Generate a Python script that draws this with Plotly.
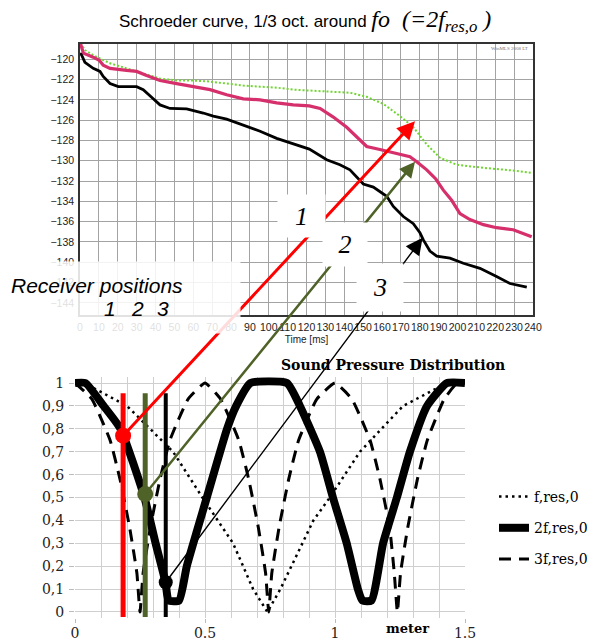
import plotly.graph_objects as go

W, H = 601, 640

# ---- top chart: Schroeder curves (time in ms, level in dB) ----
T_GREEN = [0.4, 2.6, 7, 10.6, 15.9, 24.7, 33.5, 42.4, 51.2, 60, 68.9, 77.7, 86.5, 95.4,
           104.2, 113, 121.5, 134, 143, 151.9, 160.7, 169.5, 176.6, 183.7, 190.7, 199.6,
           213.7, 231.4, 239.3]
L_GREEN = [-118.4, -119.1, -119.6, -119.9, -120.4, -120.9, -121.4, -121.9, -122.1, -122.1,
           -122.2, -122.4, -122.6, -122.7, -122.8, -123.0, -123.1, -123.2, -123.3, -123.7,
           -124.4, -125.6, -126.7, -128.4, -129.7, -130.4, -130.7, -131.0, -131.2]

T_PINK = [0, 0.9, 1.8, 7, 10.2, 12.3, 15.9, 24.7, 30, 35.3, 42.4, 51.2, 60, 68.9, 77.7,
          86.5, 95.4, 104.2, 113, 121.5, 127.2, 134.2, 141.3, 148.3, 151.9, 158.9, 167.8,
          174.8, 178.4, 183.7, 188.5, 192.5, 196.9, 201.3, 206.6, 213.7, 220.7, 229.5, 239.3]
L_PINK = [-118.3, -118.8, -119.4, -119.8, -120.1, -120.6, -120.9, -121.1, -121.2, -121.6,
          -122.1, -122.4, -122.7, -123.0, -123.5, -123.9, -124.0, -124.3, -124.5, -124.6,
          -124.85, -125.7, -126.7, -128.0, -128.6, -128.9, -129.3, -129.6, -130.1, -130.9,
          -131.8, -132.9, -133.9, -135.2, -135.8, -136.3, -136.6, -136.8, -137.5]

T_BLACK = [0, 0.9, 2.6, 7, 10.6, 12.3, 15.9, 20.3, 30, 33.5, 38.8, 42.4, 47.7, 56.5, 65.3,
           70.6, 77.7, 86.5, 95.4, 104.2, 113, 121.5, 130.7, 137.7, 143, 146.6, 150.1,
           155.4, 162.5, 166, 171.3, 176.6, 180.1, 181.9, 185.4, 189, 196, 203.1, 211.9,
           220.7, 227.8, 236.7]
L_BLACK = [-119.4, -119.6, -120.3, -120.9, -121.2, -121.7, -122.4, -122.7, -122.7, -123.0,
           -123.9, -124.5, -124.85, -124.9, -125.3, -125.6, -125.9, -126.5, -127.1, -127.8,
           -128.3, -128.85, -129.9, -130.4, -130.9, -131.6, -132.3, -132.6, -133.5, -134.5,
           -135.5, -136.2, -137.1, -137.8, -138.9, -139.4, -139.6, -140.1, -140.6, -141.4,
           -142.1, -142.45]

# ---- bottom chart: sound pressure distribution (meter, relative) ----
X_F = [0, 0.06, 0.2, 0.377, 0.49, 0.608, 0.685, 0.74, 0.79, 0.917, 0.98, 1.096, 1.262, 1.43, 1.5]
Y_F = [1, 0.985, 0.9, 0.7, 0.5, 0.3, 0.1, 0.0, 0.1, 0.4, 0.5, 0.7, 0.9, 1, 1]

X_2F = [0.00, 0.04, 0.11, 0.175, 0.267, 0.31, 0.348, 0.36, 0.40, 0.43, 0.507, 0.585, 0.62,
        0.675, 0.815, 0.865, 0.942, 0.992, 1.045, 1.088, 1.105, 1.14, 1.185, 1.238, 1.288,
        1.354, 1.43, 1.50]
Y_2F = [1.00, 1.00, 0.90, 0.80, 0.50, 0.30, 0.13, 0.05, 0.05, 0.20, 0.50, 0.80, 0.90, 1.00,
        1.00, 0.90, 0.70, 0.50, 0.30, 0.10, 0.05, 0.05, 0.30, 0.50, 0.70, 0.90, 1.00, 1.00]

X_3F = [0, 0.065, 0.135, 0.173, 0.21, 0.238, 0.25, 0.262, 0.29, 0.327, 0.365, 0.435, 0.5,
        0.56, 0.63, 0.668, 0.705, 0.733, 0.745, 0.757, 0.785, 0.822, 0.86, 0.93, 1.0,
        1.065, 1.135, 1.173, 1.21, 1.228, 1.24, 1.252, 1.28, 1.317, 1.355, 1.42, 1.47, 1.5]
Y_3F = [1, 0.93, 0.75, 0.58, 0.37, 0.17, 0, 0.17, 0.37, 0.58, 0.75, 0.93, 1,
        0.93, 0.75, 0.58, 0.37, 0.17, 0, 0.17, 0.37, 0.58, 0.75, 0.93, 1,
        0.93, 0.75, 0.58, 0.37, 0.17, 0, 0.17, 0.37, 0.58, 0.75, 0.93, 1, 1]

# receiver positions (meter) and the level read at them
RX_POS = [0.185, 0.27, 0.349]
RX_VAL = [0.77, 0.515, 0.13]
RX_COLORS = ["#FF0000", "#4F6228", "#000000"]
RX_LABELS = ["1", "2", "3"]
# where each arrow points on the Schroeder plot
TIP_MS = [177.5, 177.5, 181.5]
TIP_DB = [-126.1, -130.1, -137.6]

Y2_TICKS = [i / 10 for i in range(11)]

# axis geometry (pixels -> paper)
X1_RANGE, Y1_RANGE = [0, 240], [-145.2, -118.5]
X2_RANGE, Y2_RANGE = [0, 1.5], [-0.025, 1.025]
X1_DOM = [80 / W, 533 / W]
Y1_DOM = [1 - 315 / H, 1 - 44 / H]
X2_DOM = [75 / W, 465 / W]
Y2_DOM = [1 - 617.7 / H, 1 - 377.3 / H]


def _lin(v, r, d):
    return d[0] + (v - r[0]) / (r[1] - r[0]) * (d[1] - d[0])


def bottom_to_top(xm, yv):
    """Express a point of the bottom chart in the data units of the top chart."""
    px = _lin(xm, X2_RANGE, X2_DOM)
    py = _lin(yv, Y2_RANGE, Y2_DOM)
    return _lin(px, X1_DOM, X1_RANGE), _lin(py, Y1_DOM, Y1_RANGE)


fig = go.Figure()

# Schroeder curves
fig.add_trace(go.Scatter(x=T_GREEN, y=L_GREEN, mode="lines", xaxis="x", yaxis="y",
                         line=dict(color="#6FD630", width=2, dash="2px,2px"), showlegend=False))
fig.add_trace(go.Scatter(x=T_PINK, y=L_PINK, mode="lines", xaxis="x", yaxis="y",
                         line=dict(color="#D6306C", width=3.2), showlegend=False))
fig.add_trace(go.Scatter(x=T_BLACK, y=L_BLACK, mode="lines", xaxis="x", yaxis="y",
                         line=dict(color="#000000", width=2.8), showlegend=False))

# Sound pressure distribution
fig.add_trace(go.Scatter(x=X_F, y=Y_F, mode="lines", xaxis="x2", yaxis="y2", name="f,res,0",
                         legendgroup="a", line=dict(color="black", width=2.5, dash="2.5px,4px")))
fig.add_trace(go.Scatter(x=X_2F, y=Y_2F, mode="lines", xaxis="x2", yaxis="y2", name="2f,res,0",
                         legendgroup="b", line=dict(color="black", width=8, shape="spline",
                                                     smoothing=0.5)))
fig.add_trace(go.Scatter(x=X_3F, y=Y_3F, mode="lines", xaxis="x2", yaxis="y2", name="3f,res,0",
                         legendgroup="c", line=dict(color="black", width=3, dash="12px,8px",
                                                     shape="spline", smoothing=0.4)))

# receiver markers
for pos, val, col in zip(RX_POS, RX_VAL, RX_COLORS):
    fig.add_trace(go.Scatter(x=[pos, pos], y=[-0.022, 0.955], mode="lines", xaxis="x2",
                             yaxis="y2", line=dict(color=col, width=5 if col != "#000000" else 4),
                             showlegend=False))
for pos, val, col in zip(RX_POS, RX_VAL, RX_COLORS):
    fig.add_trace(go.Scatter(x=[pos], y=[val], mode="markers", xaxis="x2", yaxis="y2",
                             marker=dict(color=col, size=16 if col != "#000000" else 14),
                             showlegend=False))

annotations = []

# arrows from receiver points up to the Schroeder curves
ARROW_STYLE = [(3, 1.2), (2.5, 1.25), (1.4, 2.4)]
for pos, val, col, tm, tdb, (aw, asz) in zip(RX_POS, RX_VAL, RX_COLORS, TIP_MS, TIP_DB, ARROW_STYLE):
    at, adb = bottom_to_top(pos, val)
    annotations.append(dict(x=tm, y=tdb, xref="x", yref="y", ax=at, ay=adb, axref="x",
                            ayref="y", text="", showarrow=True, arrowhead=2, arrowsize=asz,
                            arrowwidth=aw, arrowcolor=col, standoff=0, startstandoff=0))

# white label boxes 1, 2, 3
for lab, cx, cy, bw, bh in [("1", 301, 216, 47, 42), ("2", 345, 244, 44, 43),
                            ("3", 380, 287, 46, 47)]:
    annotations.append(dict(x=cx / W, y=1 - cy / H, xref="paper", yref="paper",
                            text="<i>" + lab + "</i>", showarrow=False, width=bw, height=bh,
                            bgcolor="white", borderpad=0, xanchor="center", yanchor="middle",
                            font=dict(family="Liberation Serif", size=26, color="black")))

# receiver positions box
annotations.append(dict(x=120 / W, y=1 - 297.5 / H, xref="paper", yref="paper", text=" ",
                        showarrow=False, width=240, height=71, borderpad=0,
                        bgcolor="rgba(255,255,255,0.86)", xanchor="center", yanchor="middle"))
annotations.append(dict(x=9 / W, y=1 - 285 / H, xref="paper", yref="paper",
                        text="<i>Receiver positions</i>", showarrow=False, xanchor="left",
                        yanchor="middle",
                        font=dict(family="Liberation Sans", size=21, color="black")))
for lab, cx in zip(RX_LABELS, [110, 137, 163]):
    annotations.append(dict(x=cx / W, y=1 - 308 / H, xref="paper", yref="paper",
                            text="<i>" + lab + "</i>", showarrow=False, xanchor="center",
                            yanchor="middle",
                            font=dict(family="Liberation Sans", size=21, color="black")))

# titles and small texts
annotations.append(dict(
    x=305 / W, y=1 - 21 / H, xref="paper", yref="paper", showarrow=False,
    xanchor="center", yanchor="middle",
    text="Schroeder curve, 1/3 oct. around "
         "<span style='font-family:Liberation Serif;font-style:italic;font-size:24px'>"
         "fo&nbsp; (=2f<sub>res,o</sub> )</span>",
    font=dict(family="Liberation Sans", size=17, color="black")))
annotations.append(dict(x=530 / W, y=1 - 49 / H, xref="paper", yref="paper", showarrow=False,
                        xanchor="right", yanchor="middle", text="WinMLS 2008 LT",
                        font=dict(family="Liberation Sans Narrow", size=5, color="#777")))
annotations.append(dict(x=393 / W, y=1 - 365 / H, xref="paper", yref="paper", showarrow=False,
                        xanchor="center", yanchor="middle",
                        text="<b>Sound Pressure Distribution</b>",
                        font=dict(family="DejaVu Serif", size=14, color="black")))
annotations.append(dict(x=407 / W, y=1 - 628 / H, xref="paper", yref="paper", showarrow=False,
                        xanchor="center", yanchor="middle", text="<b>meter</b>",
                        font=dict(family="DejaVu Serif", size=13, color="black")))

small = dict(family="Liberation Sans Narrow, Liberation Sans", size=10.5, color="#222")
serif = dict(family="DejaVu Serif", size=14, color="#222")

fig.update_layout(
    width=W, height=H, margin=dict(l=0, r=0, t=0, b=0, pad=0),
    paper_bgcolor="white", plot_bgcolor="white",
    annotations=annotations,
    xaxis=dict(domain=X1_DOM, range=X1_RANGE, dtick=10, tick0=0, tickangle=0, showgrid=True,
               gridcolor="#a3a3a3", gridwidth=1, zeroline=False, showline=True,
               linecolor="#333", linewidth=1.5, mirror=True, ticks="", tickfont=small,
               ticklabelstandoff=2, automargin=False,
               title=dict(text="Time [ms]", font=dict(family="Liberation Sans Narrow, Liberation Sans",
                                                      size=10, color="#222"), standoff=4)),
    yaxis=dict(domain=Y1_DOM, range=Y1_RANGE, dtick=2, tick0=-120, showgrid=True,
               gridcolor="#a3a3a3", gridwidth=1, zeroline=False, showline=True,
               linecolor="#333", linewidth=1.5, mirror=True, ticks="", tickfont=small,
               ticklabelstandoff=2, automargin=False),
    xaxis2=dict(domain=X2_DOM, range=X2_RANGE, anchor="y2", tickvals=[0, 0.5, 1, 1.5],
                ticktext=["0", "0.5", "1", "1.5"], tickangle=0, showgrid=True,
                gridcolor="#cfcfcf",
                minor=dict(dtick=0.1, showgrid=True, gridcolor="#cfcfcf"),
                zeroline=False, showline=False, ticks="outside", ticklen=4,
                tickcolor="#bbb", tickfont=serif, ticklabelstandoff=-2, automargin=False),
    yaxis2=dict(domain=Y2_DOM, range=Y2_RANGE, anchor="x2", tickvals=Y2_TICKS,
                ticktext=[f"{v:g}".replace(".", ",") for v in Y2_TICKS], showgrid=True,
                gridcolor="#cfcfcf", zeroline=False, showline=False, ticks="outside",
                ticklen=5, tickcolor="#bbb", tickfont=serif, ticklabelstandoff=2,
                automargin=False),
    legend=dict(x=494 / W, y=1 - 481 / H, xanchor="left", yanchor="top",
                font=dict(family="DejaVu Serif", size=14, color="black"),
                tracegroupgap=10, bgcolor="rgba(0,0,0,0)", itemwidth=30),
    showlegend=True,
)

# the page body has a default 8px margin; remove it so the figure fills the window
fig.write_html("out.html", config={"displayModeBar": False},
               post_script="document.body.style.margin='0';")
